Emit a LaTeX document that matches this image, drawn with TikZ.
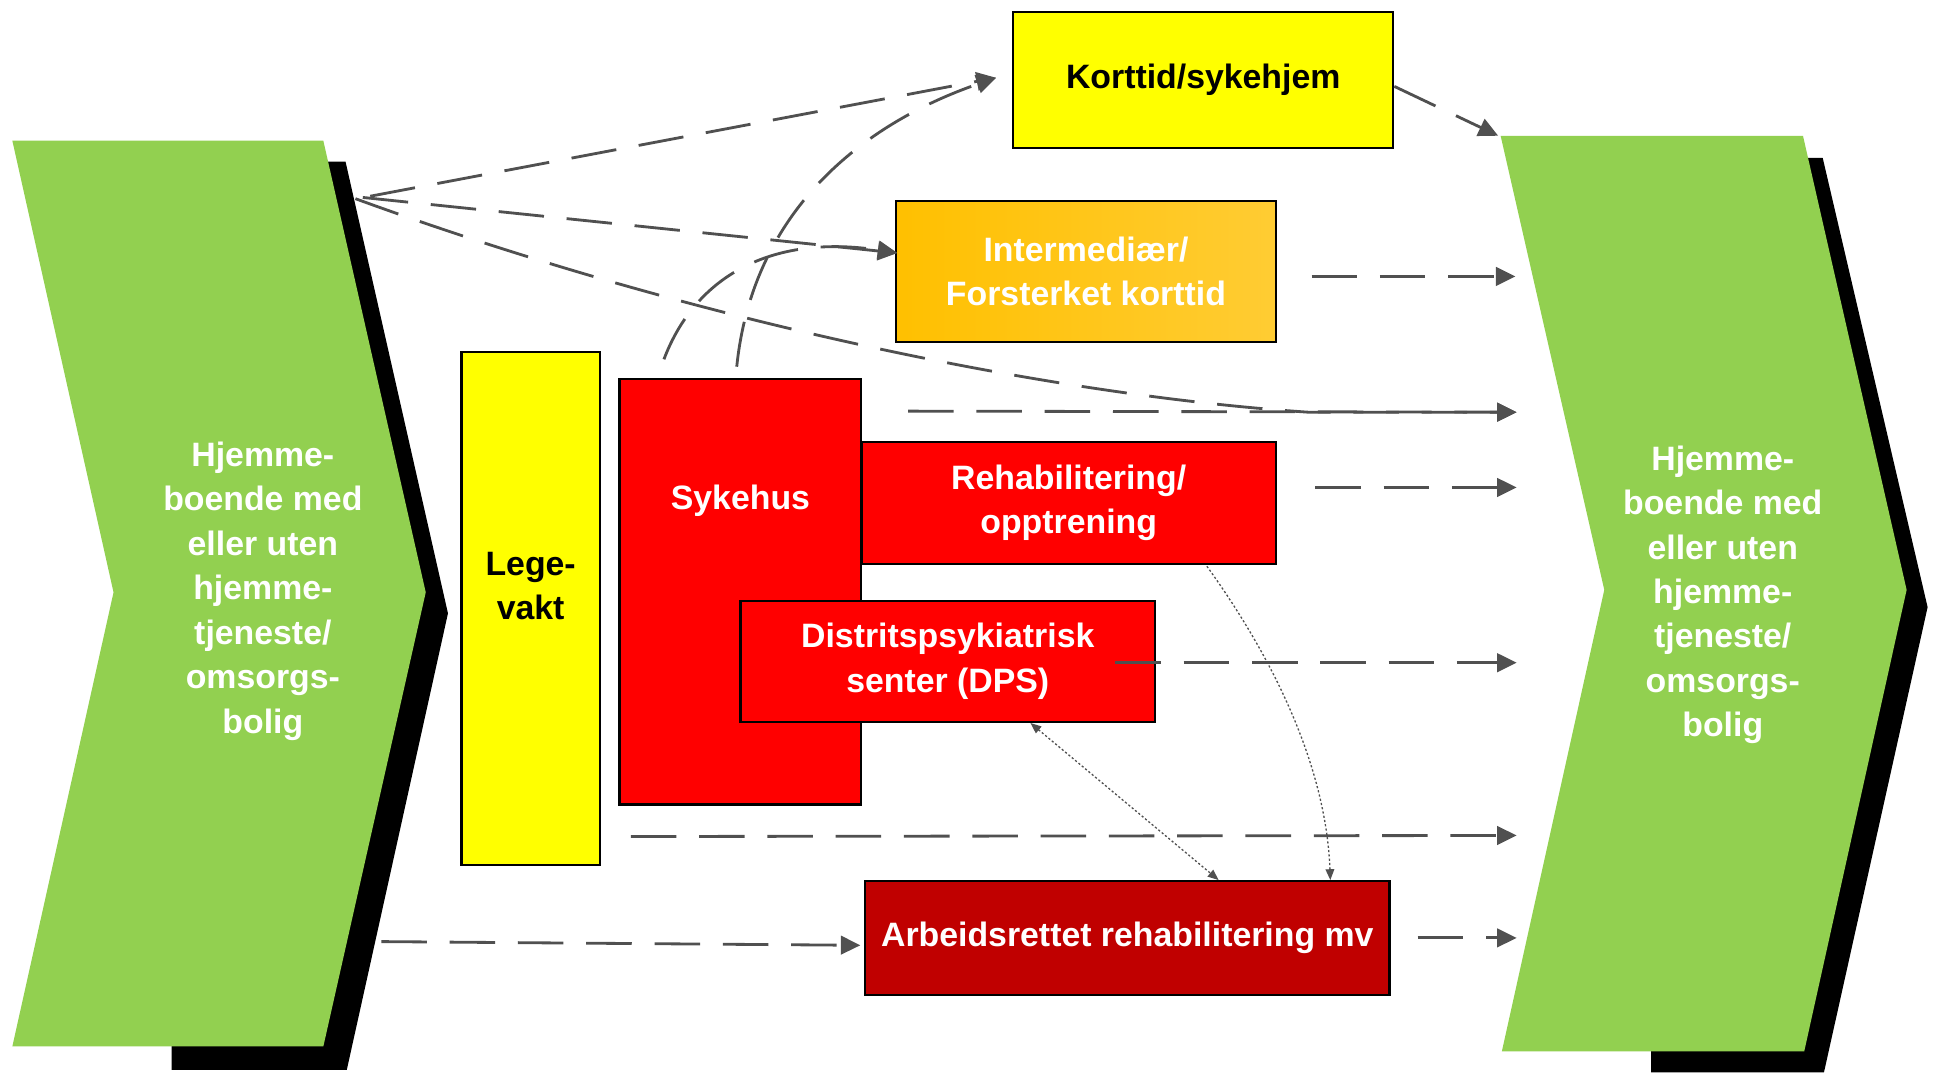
\documentclass[tikz,border=0pt]{standalone}
\usepackage{fontspec}
\setmainfont{Liberation Sans}
\usetikzlibrary{arrows.meta,calc}
\definecolor{grn}{HTML}{92D050}
\definecolor{ylw}{HTML}{FFFF00}
\definecolor{rd}{HTML}{FF0000}
\definecolor{drd}{HTML}{C00000}
\definecolor{orgA}{HTML}{FFC000}
\definecolor{orgB}{HTML}{FFCC33}
\definecolor{lgrey}{HTML}{505050}
\begin{document}
\begin{tikzpicture}[x=0.02cm,y=-0.02cm,
 txt/.style={font=\bfseries\fontsize{15.6pt}{20.5pt}\selectfont, align=center, inner sep=0pt},
 box/.style={draw=black, line width=1pt, inner sep=0pt, rectangle},
 flow/.style={draw=lgrey, line width=1.3pt, dash pattern=on 21pt off 10.5pt, -{Triangle[length=9pt,width=8.5pt]}},
 dots/.style={draw=lgrey, line width=0.6pt, dash pattern=on 1pt off 1pt, -{Triangle[length=5pt,width=4pt]}},
 shadowfill/.style={fill=black},
 chevfill/.style={fill=grn}
]
\useasboundingbox (0,0) rectangle (1568,869);
\fill[white] (0,0) rectangle (1568,869);

% left chevron
\path[shadowfill] (139,131) -- (280,131) -- (363,497) -- (281,867) -- (139,867) -- cycle;
\path[chevfill] (10,114) -- (262,114) -- (345,480) -- (262,848) -- (10,848) -- (92,480) -- cycle;
\node[txt, text=white] (lhome) at (213,479) {Hjemme-\\boende med\\eller uten\\hjemme-\\tjeneste/\\omsorgs-\\bolig};

% right chevron
\path[shadowfill] (1338,128) -- (1477,128) -- (1562,492) -- (1478,869) -- (1338,869) -- cycle;
\path[chevfill] (1216,110) -- (1461,110) -- (1545,478) -- (1462,852) -- (1217,852) -- (1300,478) -- cycle;
\node[txt, text=white] (rhome) at (1396,482) {Hjemme-\\boende med\\eller uten\\hjemme-\\tjeneste/\\omsorgs-\\bolig};

% boxes
\node[box, fill=ylw, minimum width=6.16cm, minimum height=2.2cm, txt] (kort) at (975,65) {Korttid/sykehjem};
\node[box, left color=orgA, right color=orgB, minimum width=6.16cm, minimum height=2.28cm, txt, text=white] (inter) at (880,220) {Intermediær/\\Forsterket korttid};
\node[box, fill=ylw, minimum width=2.24cm, minimum height=8.32cm] (lege) at (430,493) {};
\node[txt] (legetxt) at (430,475) {Lege-\\vakt};
\node[box, fill=rd, minimum width=3.92cm, minimum height=6.9cm] (syk) at (600,479.5) {};
\node[txt, text=white] (syktxt) at (600,406) {Sykehus};
\node[box, fill=rd, minimum width=6.72cm, minimum height=1.98cm, txt, text=white] (rehab) at (866,407.5) {Rehabilitering/\\opptrening};
\node[box, fill=rd, minimum width=6.72cm, minimum height=1.96cm, txt, text=white] (dps) at (768,536) {Distritspsykiatrisk\\senter (DPS)};
\node[box, fill=drd, minimum width=8.5cm, minimum height=1.84cm, txt, text=white] (arb) at (913.5,760) {Arbeidsrettet rehabilitering mv};

% free ends
\coordinate (lA) at (300,159);
\coordinate (lB) at (294,160);
\coordinate (lC) at (288,161);
\coordinate (lD) at (309,763);
\coordinate (rtop) at (1214,110);
\coordinate (r1) at (1228,224);
\coordinate (r2) at (1229,334);
\coordinate (r3) at (1229,395);
\coordinate (r4) at (1229,537);
\coordinate (r5) at (1229,677);
\coordinate (r6) at (1229,760);

% dashed flows
\draw[flow] (lA) -- ($(kort.west)+(-13,-2)$);
\draw[flow] (lB) -- ($(inter.west)+(2,-15)$);
\draw[flow] (lC) .. controls (560,260) and (850,320) .. (1060,334) -- (r2);
\draw[flow] ($(syk.north east)+(37,27)$) -- (r2);
\draw[flow] ($(syk.north)+(-62,-15)$) .. controls (565,220) and (630,190) .. ($(inter.west)+(2,-15)$);
\draw[flow] ($(syk.north)+(-3,-9)$) .. controls (610,170) and (700,100) .. ($(kort.west)+(-13,-2)$);
\draw[flow] ($(kort.east)+(0,5)$) -- (rtop);
\draw[flow] ($(inter.east)+(28,4)$) -- (r1);
\draw[flow] ($(rehab.east)+(31,-12.5)$) -- (r3);
\draw[flow] ($(dps.east)+(-33,1)$) -- (r4);
\draw[flow] ($(syk.south west)+(10,25)$) -- (r5);
\draw[flow] (lD) -- ($(arb.west)+(-3,6)$);
\draw[flow] ($(arb.east)+(22,0)$) -- (r6);

% dotted links
\draw[dots] ($(rehab.south)+(112,1)$) .. controls (1040,545) and (1075,630) .. ($(arb.north)+(164.5,0)$);
\draw[dots, {Triangle[length=5pt,width=4pt]}-{Triangle[length=5pt,width=4pt]}] ($(dps.south)+(67,0)$) -- ($(arb.north)+(74,0)$);
\end{tikzpicture}
\end{document}
